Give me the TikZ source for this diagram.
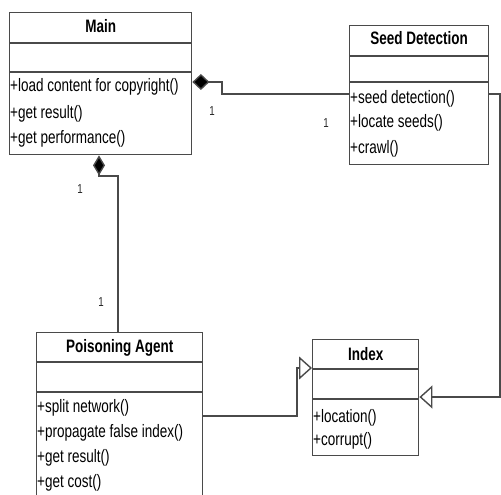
\documentclass[tikz,border=0pt]{standalone}
\usepackage{fontspec}
\setmainfont{Liberation Sans}
\newfontfamily\umlfont[FakeStretch=0.75]{Liberation Sans}
\usetikzlibrary{arrows.meta}
\definecolor{linegray}{HTML}{4A4A4A}
\tikzset{
  classbox/.style={draw=linegray, line width=1.4pt, inner sep=0pt, anchor=north west},
  divider/.style={draw=linegray, line width=1.4pt},
  ctitle/.style={font=\umlfont\bfseries\fontsize{18}{20}\selectfont, inner sep=0pt, anchor=base, text=black},
  method/.style={font=\umlfont\fontsize{18}{20}\selectfont, inner sep=0pt, anchor=base west, text=black},
  mult/.style={font=\umlfont\fontsize{13}{14}\selectfont, inner sep=0pt, anchor=base, text=black!85},
  link/.style={draw=linegray, line width=1.4pt},
  comph/.style={link, {Diamond[length=17pt,width=16pt,fill=black]}-},
  compv/.style={link, {Diamond[length=20pt,width=12pt,fill=black]}-},
  gen/.style={link, -{Triangle[open,length=13pt,width=23pt,fill=white]}}
}
\begin{document}
\begin{tikzpicture}[x=1pt,y=-1pt]
\useasboundingbox (0,0) rectangle (501,495);
\clip (0,0) rectangle (501,495);

% Main
\node[classbox, minimum width=182pt, minimum height=142pt] (main) at (9,12) {};
\draw[divider] (main.west |- 0,43) -- (main.east |- 0,43);
\draw[divider] (main.west |- 0,72) -- (main.east |- 0,72);
\node[ctitle] (mainT) at (main.north |- 0,33) {Main};
\node[method] (mainM1) at (10,92) {+load content for copyright()};
\node[method] (mainM2) at (10,118) {+get result()};
\node[method] (mainM3) at (10,143) {+get performance()};

% Seed Detection
\node[classbox, minimum width=139pt, minimum height=139pt] (sd) at (349,25) {};
\draw[divider] (sd.west |- 0,56) -- (sd.east |- 0,56);
\draw[divider] (sd.west |- 0,82) -- (sd.east |- 0,82);
\node[ctitle] (sdT) at (sd.north |- 0,45) {Seed Detection};
\node[method] (sdM1) at (350,103) {+seed detection()};
\node[method] (sdM2) at (350,128) {+locate seeds()};
\node[method] (sdM3) at (350,153) {+crawl()};

% Poisoning Agent
\node[classbox, minimum width=166pt, minimum height=200pt] (pa) at (36,332) {};
\draw[divider] (pa.west |- 0,362) -- (pa.east |- 0,362);
\draw[divider] (pa.west |- 0,392) -- (pa.east |- 0,392);
\node[ctitle] (paT) at (pa.north |- 0,352) {Poisoning Agent};
\node[method] (paM1) at (37,412) {+split network()};
\node[method] (paM2) at (37,437) {+propagate false index()};
\node[method] (paM3) at (37,462) {+get result()};
\node[method] (paM4) at (37,487) {+get cost()};

% Index
\node[classbox, minimum width=106pt, minimum height=116pt] (idx) at (312,339) {};
\draw[divider] (idx.west |- 0,369) -- (idx.east |- 0,369);
\draw[divider] (idx.west |- 0,399) -- (idx.east |- 0,399);
\node[ctitle] (idxT) at (idx.north |- 0,360) {Index};
\node[method] (idxM1) at (313,422) {+location()};
\node[method] (idxM2) at (313,445) {+corrupt()};

% bend points
\coordinate (b1) at (222,82);
\coordinate (b3) at (118,176);
\coordinate (b4) at (297,368);
\coordinate (b5) at (500,397);

% connectors
\draw[comph] (main.east |- 0,82) -- (b1) |- (sd.west |- 0,94);
\draw[compv] (main.south -| 99,0) |- (b3) -- (pa.north -| b3);
\draw[gen] (pa.east |- 0,416) -| (b4) -- (idx.west |- b4);
\draw[gen] (sd.east |- 0,94) -| (b5) -- (idx.east |- b5);

% multiplicities
\node[mult] (m1) at (212,115) {1};
\node[mult] (m2) at (326,127) {1};
\node[mult] (m3) at (80,193) {1};
\node[mult] (m4) at (101,306) {1};
\end{tikzpicture}
\end{document}
